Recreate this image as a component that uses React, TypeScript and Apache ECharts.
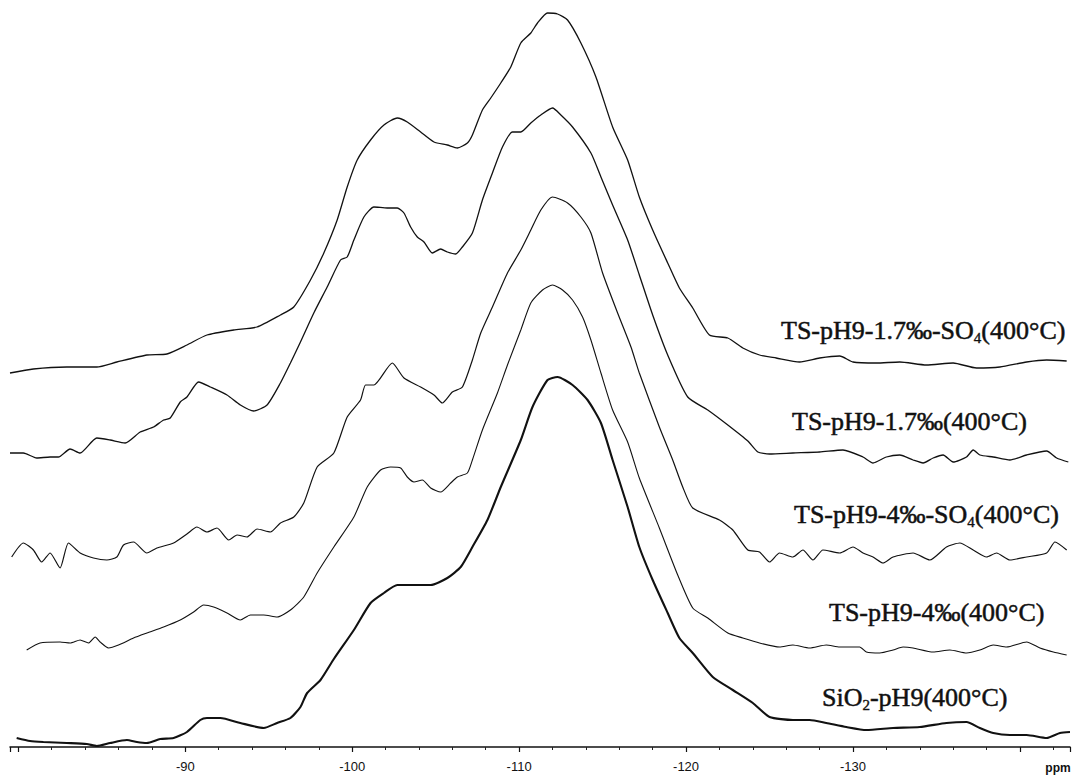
import React, { useEffect, useRef } from "react";
import * as echarts from "echarts";

// Chemical shift (ppm) and intensity (a.u., relative to each spectrum's own baseline)
const s1Ppm = [-79.5,-80.9,-82.9,-84.7,-85.9,-87.7,-88.9,-90.1,-91.3,-92.9,-94.3,-95.7,-96.5,-97.5,-98.3,-99.1,-99.7,-100.3,-101.1,-101.9,-102.7,-103.3,-104.1,-104.9,-105.7,-106.3,-106.9,-107.2,-107.8,-108.3,-108.9,-109.5,-110.1,-110.7,-111.1,-111.7,-112.3,-112.9,-113.7,-114.6,-115.6,-116.5,-117.2,-118.0,-118.9,-119.6,-120.4,-121.4,-122.5,-123.4,-124.4,-125.4,-126.8,-128.0,-129.2,-130.0,-131.4,-132.8,-134.4,-136.0,-137.4,-138.8,-140.4,-141.6,-142.8];
const s1Int = [-3,1,3,3,8,15,16,25,35,40,43,55,63,90,117,150,183,210,230,245,252,248,238,228,225,222,227,235,260,272,287,303,327,337,347,357,356,350,327,293,243,210,173,140,107,82,62,35,32,22,15,12,8,12,14,8,7,8,5,7,2,3,8,10,9];

const s2Ppm = [-79.5,-80.3,-81.1,-81.9,-82.4,-83.1,-83.7,-84.7,-85.5,-86.4,-87.3,-88.1,-88.7,-89.1,-89.7,-90.1,-90.8,-91.5,-92.5,-93.3,-94.1,-94.9,-95.7,-96.3,-96.9,-97.7,-98.5,-99.3,-99.7,-100.1,-100.7,-101.3,-102.1,-102.7,-103.1,-103.5,-103.9,-104.3,-104.8,-105.3,-105.7,-106.2,-106.6,-107.2,-107.8,-108.4,-109.0,-109.6,-110.1,-110.7,-111.3,-112.0,-112.5,-113.2,-114.3,-114.9,-115.6,-116.5,-117.2,-118.0,-118.9,-120.1,-121.3,-122.5,-123.7,-124.3,-125.0,-126.4,-128.0,-129.4,-130.6,-131.2,-132.0,-132.8,-133.6,-134.2,-134.8,-135.4,-136.0,-136.8,-137.2,-137.6,-138.4,-139.4,-140.4,-141.6,-142.2,-142.9];
const s2Int = [2,2,-3,-2,-2,6,2,17,15,12,23,28,35,37,53,58,73,68,60,50,44,50,72,92,113,142,168,195,198,215,238,248,247,247,242,228,218,213,202,206,203,201,208,222,255,282,308,323,323,332,340,347,340,328,302,278,250,215,180,140,100,58,45,30,14,3,1,2,3,5,-2,-8,-2,0,-5,-8,-3,0,-7,-2,5,0,-2,-5,0,4,-3,-7];

const s3Ppm = [-79.6,-80.3,-80.9,-81.4,-81.9,-82.5,-83.0,-83.7,-84.5,-85.3,-85.9,-86.3,-86.9,-87.7,-88.3,-89.3,-90.1,-90.7,-91.3,-91.9,-92.6,-93.1,-93.7,-94.3,-95.1,-95.7,-96.5,-97.1,-97.9,-98.9,-99.7,-100.5,-100.8,-101.3,-102.4,-103.1,-104.1,-104.9,-105.4,-106.0,-106.6,-107.2,-107.7,-108.4,-109.3,-110.1,-110.7,-111.3,-112.0,-112.9,-113.7,-114.3,-115.0,-115.9,-116.7,-117.2,-118.4,-119.2,-119.8,-120.4,-122.0,-122.8,-123.7,-124.4,-125.0,-125.6,-126.4,-127.0,-127.6,-128.2,-129.2,-130.0,-130.6,-131.2,-131.8,-132.4,-133.6,-134.6,-135.6,-136.4,-137.2,-138.0,-138.6,-139.4,-140.4,-141.6,-142.1,-142.8];
const s3Int = [-4,10,3,-9,0,-15,10,0,-5,-7,-4,8,11,0,5,10,19,26,21,25,13,18,16,24,21,30,36,50,86,100,136,153,168,168,190,175,166,158,150,161,166,193,220,246,280,303,323,343,356,350,336,320,280,240,206,180,126,93,66,45,33,23,3,1,-9,0,-4,3,-7,3,0,6,0,-4,-10,-4,0,-7,6,10,3,-4,0,-7,-4,0,11,3];

const s4Ppm = [-80.5,-81.3,-82.5,-83.1,-83.7,-84.2,-84.6,-84.9,-85.4,-86.0,-86.9,-87.7,-88.7,-89.7,-90.5,-91.1,-91.7,-92.5,-93.3,-93.9,-94.7,-95.5,-96.3,-97.1,-97.9,-98.9,-100.1,-100.9,-101.7,-102.3,-102.9,-103.3,-103.7,-104.2,-104.7,-105.3,-105.9,-106.3,-106.9,-107.2,-107.8,-108.7,-109.3,-110.1,-110.7,-111.4,-112.0,-112.6,-113.2,-113.8,-114.3,-114.9,-115.6,-116.5,-117.2,-118.4,-119.5,-120.4,-121.3,-122.5,-123.4,-124.4,-125.6,-126.4,-127.4,-128.4,-129.2,-130.4,-130.8,-131.6,-132.4,-133.0,-133.6,-134.8,-135.8,-136.8,-137.6,-138.4,-139.2,-140.4,-141.2,-142.0,-142.8];
const s4Int = [-5,2,3,2,5,2,8,3,-3,0,7,12,18,25,33,40,38,32,25,30,30,28,35,48,72,98,128,158,175,178,177,168,163,165,157,153,162,168,172,185,215,252,280,315,342,355,360,355,345,328,305,272,235,203,167,117,70,37,27,12,7,2,-2,0,-3,0,-2,-2,-7,-8,-5,-2,-3,-7,-5,-8,-5,0,-2,3,-3,-7,-10];

const s5Ppm = [-79.9,-80.7,-81.5,-82.9,-84.1,-84.7,-85.5,-86.5,-87.1,-87.7,-88.5,-89.3,-90.1,-90.9,-91.3,-92.1,-93.3,-94.7,-95.5,-96.3,-96.9,-97.3,-98.1,-98.9,-100.1,-101.1,-101.9,-102.7,-103.7,-104.7,-105.7,-106.5,-107.2,-108.1,-108.9,-110.1,-110.8,-111.7,-112.3,-113.2,-114.1,-114.9,-115.6,-116.5,-117.2,-118.0,-118.9,-119.6,-120.4,-121.6,-122.8,-124.0,-125.0,-126.4,-127.4,-128.4,-129.6,-130.8,-132.4,-134.0,-135.6,-136.8,-137.6,-138.4,-139.4,-140.4,-141.6,-142.4,-143.0];
const s5Int = [2,-1,-2,-3,-4,-6,-3,0,-2,-3,1,2,8,20,22,22,17,12,17,22,33,47,60,81,110,137,147,155,155,155,162,173,193,220,253,300,333,360,363,355,340,317,280,233,193,160,127,102,87,63,50,37,23,20,20,17,13,10,12,13,17,18,12,7,5,5,2,7,8];

const SERIES_NAMES = [
  "TS-pH9-1.7‰-SO4(400°C)",
  "TS-pH9-1.7‰(400°C)",
  "TS-pH9-4‰-SO4(400°C)",
  "TS-pH9-4‰(400°C)",
  "SiO2-pH9(400°C)",
];
const OFFSETS = [377, 292, 194, 102, 7];
const TICK_LABELS = [-90, -100, -110, -120, -130];

const PPM = [s1Ppm, s2Ppm, s3Ppm, s4Ppm, s5Ppm];
const INT = [s1Int, s2Int, s3Int, s4Int, s5Int];

const LABEL_POS = [
  { x: 781, y: 330 },
  { x: 792, y: 421 },
  { x: 794, y: 514 },
  { x: 829, y: 612 },
  { x: 822, y: 697 },
];
const LINE_WIDTHS = [1.3, 1.3, 1.2, 1.1, 2.1];

function richName(name: string): string {
  const m = name.match(/^(.*?(?:SO|SiO))(\d)(.*)$/);
  return m ? `{a|${m[1]}}{s|${m[2]}}{a|${m[3]}}` : `{a|${name}}`;
}

export default function App() {
  const ref = useRef<HTMLDivElement>(null);
  useEffect(() => {
    if (!ref.current) return;
    const chart = echarts.init(ref.current, undefined, { renderer: "svg" });
    const serif = "'Liberation Serif', 'Times New Roman', serif";
    const series = PPM.map((xs, i) => ({
      name: SERIES_NAMES[i],
      type: "line",
      data: xs.map((p, j) => [p, INT[i][j] + OFFSETS[i]]),
      showSymbol: false,
      smooth: 0.2,
      clip: false,
      lineStyle: { color: "#111", width: LINE_WIDTHS[i] },
      emphasis: { disabled: true },
    }));
    chart.setOption({
      animation: false,
      backgroundColor: "#ffffff",
      grid: { left: 10, right: 4, top: 0, bottom: 29 },
      xAxis: {
        type: "value",
        inverse: true,
        min: -143,
        max: -79.5,
        axisLine: { show: true, lineStyle: { color: "#111", width: 1.5 } },
        axisTick: { show: true, length: 5, lineStyle: { color: "#111", width: 1.2 } },
        minorTick: { show: true, splitNumber: 5, length: 3, lineStyle: { color: "#222", width: 1 } },
        splitLine: { show: false },
        axisLabel: {
          margin: 13,
          fontSize: 13,
          color: "#111",
          fontFamily: "'Liberation Sans', Arial, sans-serif",
          formatter: (v: number) => (TICK_LABELS.includes(Math.round(v * 10) / 10) ? String(v) : ""),
        },
      },
      yAxis: { type: "value", min: 0, max: 747, show: false },
      series,
      graphic: [
        ...SERIES_NAMES.map((n, i) => ({
          type: "text",
          x: LABEL_POS[i].x,
          y: LABEL_POS[i].y,
          silent: true,
          style: {
            text: richName(n),
            fill: "#111",
            verticalAlign: "middle",
            align: "left",
            rich: {
              a: { fontFamily: serif, fontSize: 26, fill: "#111", stroke: "#111", lineWidth: 0.5, lineHeight: 30, verticalAlign: "middle" },
              s: { fontFamily: serif, fontSize: 15, fill: "#111", stroke: "#111", lineWidth: 0.4, lineHeight: 30, verticalAlign: "bottom" },
            },
          },
        })),
        {
          type: "text",
          x: 1058,
          y: 768,
          silent: true,
          style: {
            text: "ppm",
            fill: "#111",
            align: "center",
            verticalAlign: "middle",
            fontSize: 12,
            fontWeight: "bold",
            fontFamily: "'Liberation Sans', Arial, sans-serif",
          },
        },
      ],
    });
    return () => chart.dispose();
  }, []);
  return (
    <div
      ref={ref}
      style={{ position: "fixed", left: 0, top: 0, width: 1074, height: 776, background: "#fff" }}
    />
  );
}
